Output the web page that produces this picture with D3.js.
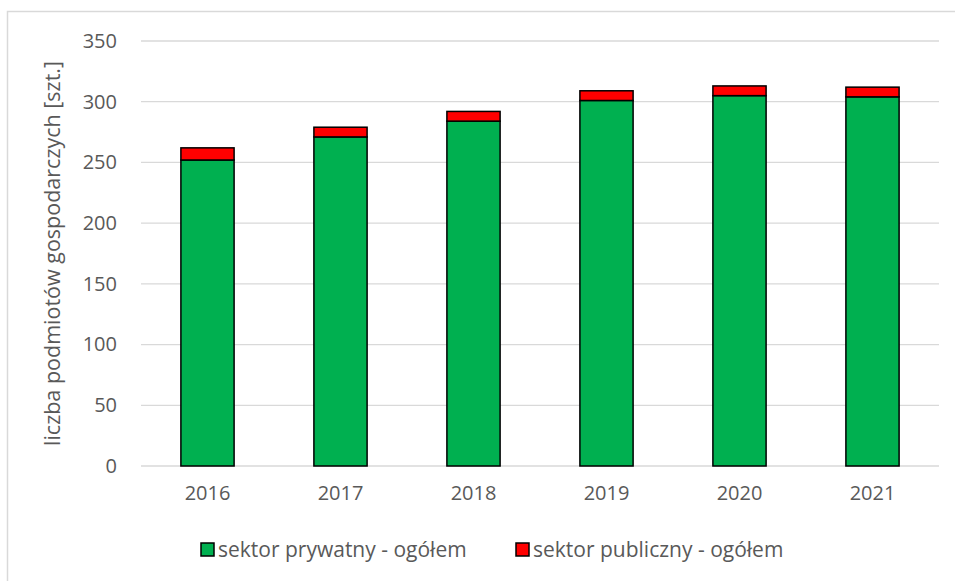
<!DOCTYPE html>
<html>
<head>
<meta charset="utf-8">
<script src="https://cdn.jsdelivr.net/npm/d3@7"></script>
<style>
  body { margin: 0; background: #fff; }
  text { font-family: "Open Sans", "Liberation Sans", sans-serif; fill: #595959; }
</style>
</head>
<body>
<div id="chart"></div>
<script>
// data
var years = ["2016", "2017", "2018", "2019", "2020", "2021"];
var privateSector = [252, 271, 284, 301, 305, 304];
var publicSector = [10, 8, 8, 8, 8, 8];
var yTicks = [0, 50, 100, 150, 200, 250, 300, 350];
var seriesNames = ["sektor prywatny - ogółem", "sektor publiczny - ogółem"];
var seriesColors = ["#00b050", "#ff0000"];

var width = 955, height = 581;
var plot = { left: 141, right: 939, top: 41, bottom: 466 };

var svg = d3.select("#chart").append("svg")
    .attr("width", width)
    .attr("height", height);

// outer chart border
svg.append("rect")
    .attr("x", 7.5).attr("y", 11.5)
    .attr("width", 960).attr("height", 600)
    .attr("fill", "none")
    .attr("stroke", "#d9d9d9")
    .attr("stroke-width", 1.5);

var x = d3.scaleBand()
    .domain(years)
    .range([plot.left, plot.right])
    .paddingInner(0.6)
    .paddingOuter(0.3);

var y = d3.scaleLinear()
    .domain([0, 350])
    .range([plot.bottom, plot.top]);

// gridlines
svg.append("g")
    .selectAll("line")
    .data(yTicks)
    .enter()
    .append("line")
    .attr("x1", plot.left).attr("x2", plot.right)
    .attr("y1", function(d) { return y(d); })
    .attr("y2", function(d) { return y(d); })
    .attr("stroke", "#d9d9d9")
    .attr("stroke-width", 1.3);

// y axis labels
var yAxis = d3.axisLeft(y).tickValues(yTicks).tickSize(0).tickPadding(24);
var gy = svg.append("g")
    .attr("transform", "translate(" + plot.left + ",0)")
    .call(yAxis);
gy.select(".domain").remove();
gy.selectAll("text").style("font-size", "20px").attr("fill", "#595959");

// x axis labels
var xAxis = d3.axisBottom(x).tickSize(0).tickPadding(20);
var gx = svg.append("g")
    .attr("transform", "translate(0," + plot.bottom + ")")
    .call(xAxis);
gx.select(".domain").remove();
gx.selectAll("text").style("font-size", "20px").attr("fill", "#595959");

// stacked bars
var rows = years.map(function(yr, i) {
    return { year: yr, priv: privateSector[i], pub: publicSector[i] };
});
var stack = d3.stack().keys(["priv", "pub"])(rows);

svg.append("g")
    .selectAll("g")
    .data(stack)
    .enter()
    .append("g")
    .attr("fill", function(d, i) { return seriesColors[i]; })
    .selectAll("rect")
    .data(function(d) { return d; })
    .enter()
    .append("rect")
    .attr("x", function(d) { return x(d.data.year); })
    .attr("width", x.bandwidth())
    .attr("y", function(d) { return y(d[1]); })
    .attr("height", function(d) { return y(d[0]) - y(d[1]); })
    .attr("stroke", "#000")
    .attr("stroke-width", 1.5);

// y axis title
svg.append("text")
    .attr("transform", "translate(52," + ((plot.top + plot.bottom) / 2) + ") rotate(-90)")
    .attr("text-anchor", "middle")
    .attr("dy", "0.35em")
    .style("font-size", "21.5px")
    .text("liczba podmiotów gospodarczych [szt.]");

// legend
var legendX = [201, 516];
var legend = svg.append("g");
seriesNames.forEach(function(name, i) {
    legend.append("rect")
        .attr("x", legendX[i]).attr("y", 543)
        .attr("width", 13).attr("height", 13)
        .attr("fill", seriesColors[i])
        .attr("stroke", "#000")
        .attr("stroke-width", 1.5);
    legend.append("text")
        .attr("x", legendX[i] + 17).attr("y", 557)
        .style("font-size", "21px")
        .text(name);
});
</script>
</body>
</html>
